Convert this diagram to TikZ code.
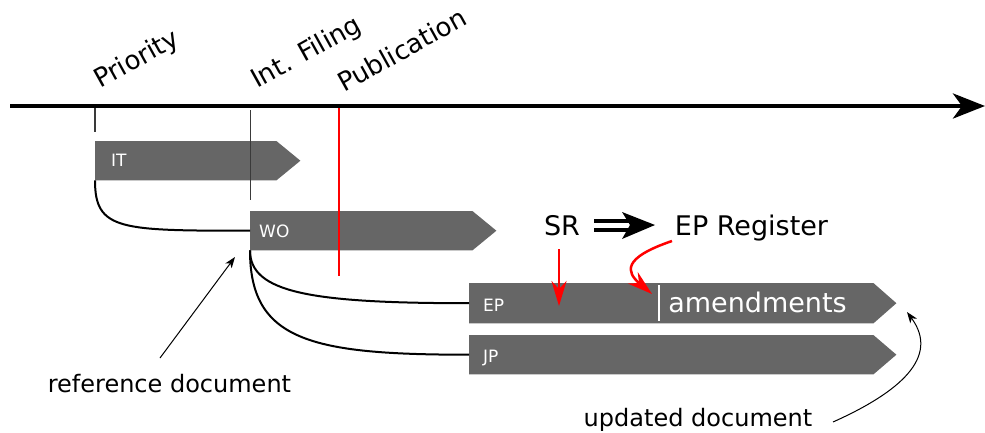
\documentclass[tikz,border=0pt]{standalone}
\usepackage{fontspec}
\setmainfont{DejaVu Sans}
\usetikzlibrary{arrows.meta,calc}
\definecolor{docgray}{HTML}{666666}
\definecolor{tickgray}{HTML}{3A3A3A}
\newcommand\docshape[2]{\fill[docgray] (#1.north west) -- (#1.north east) -- ($(#1.east)+(#2,0)$) -- (#1.south east) -- (#1.south west) -- cycle;}
\begin{document}
\begin{tikzpicture}[x=1pt,y=-1pt,
  docbody/.style={draw=none, inner sep=0pt, anchor=north west},
  doclabel/.style={text=white, font=\fontsize{17}{17}\selectfont, inner sep=0pt, anchor=west},
  milestone/.style={font=\fontsize{26}{26}\selectfont, inner sep=0pt, anchor=base west, rotate=29},
  bigtext/.style={font=\fontsize{27}{27}\selectfont, inner sep=0pt, anchor=base},
  note/.style={font=\fontsize{24}{24}\selectfont, inner sep=0pt, anchor=base},
  link/.style={line width=2pt},
  tickline/.style={tickgray, line width=1.4pt},
  publine/.style={red, line width=1.6pt},
  pointer/.style={line width=1pt, -{Stealth[length=11pt,width=8pt,inset=3pt]}},
  redarrow/.style={red, line width=2.5pt, -{Stealth[length=25pt,width=15pt,inset=8pt]}},
]
\useasboundingbox (0,0) rectangle (985,432);

% timeline
\coordinate (tl0) at (10,106);
\coordinate (tl1) at (985,106);
\draw[line width=4.5pt, -{Stealth[length=32pt,width=25pt,inset=9pt]}] (tl0) -- (tl1);

% milestone labels
\node[milestone] (prio) at (100,89) {Priority};
\node[milestone] (intf) at (257,89) {Int. Filing};
\node[milestone] (publ) at (344,93) {Publication};

% document arrows
\node[docbody, minimum width=181pt, minimum height=39pt] (IT) at (95,141) {};
\node[docbody, minimum width=222pt, minimum height=39pt] (WO) at (250,211) {};
\node[docbody, minimum width=404pt, minimum height=40pt] (EP) at (469,283) {};
\node[docbody, minimum width=404pt, minimum height=39pt] (JP) at (469,335) {};
\docshape{IT}{24}
\docshape{WO}{24}
\docshape{EP}{23}
\docshape{JP}{23}
\node[doclabel] (ITl) at (111,160) {IT};
\node[doclabel] (WOl) at (259,231) {WO};
\node[doclabel] (EPl) at (483,305) {EP};
\node[doclabel] (JPl) at (483,358) {JP};

% divider and amendments
\coordinate (divT) at ($(EP.north west)+(190,2)$);
\coordinate (divB) at ($(EP.south west)+(190,-2)$);
\draw[white, line width=2pt] (divT) -- (divB);
\node[bigtext, text=white] (amend) at (757.5,312) {amendments};

% ticks
\coordinate (prioT) at (95,108); \coordinate (prioB) at (95,132);
\draw[tickline] (prioT) -- (prioB);
\coordinate (intT) at (250.5,110); \coordinate (intB) at (250.5,200);
\draw[tickline] (intT) -- (intB);
\coordinate (pubT) at (339,108); \coordinate (pubB) at (339,276);
\draw[publine] (pubT) -- (pubB);

% family links
\draw[link] (IT.south west) .. controls +(0,50) and +(-130,0) .. (WO.west);
\draw[link] (WO.south west) .. controls +(0,42) and +(-159,0) .. (EP.west);
\draw[link] (WO.south west) .. controls +(0,90) and +(-159,0) .. (JP.west);

% SR and EP Register
\node[bigtext] (SR) at (562,235) {SR};
\node[bigtext] (EPreg) at (751.5,235) {EP Register};
\coordinate (dblA) at (594,225);
\coordinate (dblB) at (631,225);
\coordinate (dblTip) at (655,225);
\draw[line width=4pt, double distance=5pt] (dblA) -- (dblB);
\fill (dblTip) -- ($(dblTip)+(-33,-13)$) -- ($(dblTip)+(-25,0)$) -- ($(dblTip)+(-33,14)$) -- cycle;

\coordinate (srA) at (559,249); \coordinate (srB) at (559,306);
\draw[redarrow] (srA) -- (srB);
\coordinate (regA) at (672,241); \coordinate (regB) at (652,294);
\draw[redarrow] (regA) .. controls (622,258) and (626,272) .. (regB);

% notes
\node[note] (refdoc) at (169.5,392) {reference document};
\coordinate (refA) at (160,358); \coordinate (refB) at (235,257);
\draw[pointer] (refA) -- (refB);
\node[note] (upddoc) at (698,426) {updated document};
\coordinate (updA) at (833,422); \coordinate (updB) at (907,312);
\draw[pointer] (updA) .. controls (900,392) and (940,357) .. (updB);
\end{tikzpicture}
\end{document}
